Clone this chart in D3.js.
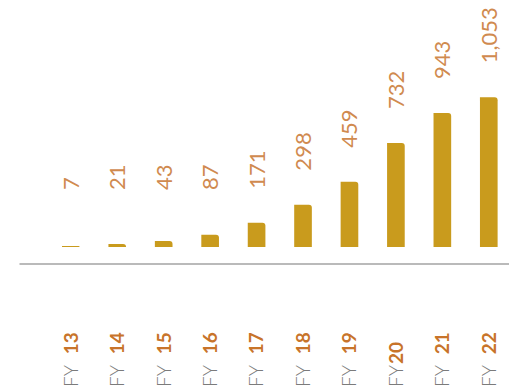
<!DOCTYPE html>
<html>
<head>
<meta charset="utf-8">
<script src="https://cdn.jsdelivr.net/npm/d3@7"></script>
<style>
  html, body { margin: 0; padding: 0; background: #fff; }
  svg { display: block; }
</style>
</head>
<body>
<svg id="chart" width="509" height="392"></svg>
<script>
// Fiscal years and their values
const categories = ["FY 13", "FY 14", "FY 15", "FY 16", "FY 17", "FY 18", "FY 19", "FY20", "FY 21", "FY 22"];
const values = [7, 21, 43, 87, 171, 298, 459, 732, 943, 1053];

const W = 509, H = 392;
const baseY = 247;      // bottom of the bars
const axisY = 264;      // grey rule under the bars

const svg = d3.select("#chart");

const x = d3.scaleBand()
  .domain(categories)
  .range([39, 520.6])
  .paddingInner(0.62)
  .paddingOuter(0.495);

const y = d3.scaleLinear()
  .domain([0, 1053])
  .range([baseY, 97.3]);

const fmt = d3.format(",");

// bar with only the top-right corner rounded
function barPath(x0, w, yTop, yBot, r) {
  const h = yBot - yTop;
  const rr = Math.min(r, h, w / 2);
  return `M${x0},${yBot}V${yTop}H${x0 + w - rr}` +
         `Q${x0 + w},${yTop} ${x0 + w},${yTop + rr}V${yBot}Z`;
}

svg.append("g")
  .selectAll("path")
  .data(values)
  .join("path")
  .attr("d", (d, i) => barPath(x(categories[i]), x.bandwidth(), y(d), y(0), 3))
  .attr("fill", "#C99B1D");

// value labels, rotated, sitting above each bar
svg.append("g")
  .selectAll("text")
  .data(values)
  .join("text")
  .attr("transform", (d, i) => {
    const cx = x(categories[i]) + x.bandwidth() / 2;
    const ly = Math.min(y(d) - 34, 190);
    return `translate(${cx},${ly}) rotate(-90)`;
  })
  .attr("dy", "0.36em")
  .attr("text-anchor", "start")
  .attr("font-family", "Lato, 'Open Sans', sans-serif")
  .attr("font-weight", 400)
  .attr("font-size", 22)
  .attr("fill", "#D08A4F")
  .text(d => fmt(d));

// baseline
svg.append("line")
  .attr("x1", 19.5).attr("x2", W)
  .attr("y1", axisY).attr("y2", axisY)
  .attr("stroke", "#A3A3A3")
  .attr("stroke-width", 1.5);

// category labels: grey "FY" followed by a bold orange year
const cat = svg.append("g")
  .selectAll("text")
  .data(categories)
  .join("text")
  .attr("transform", d => `translate(${x(d) + x.bandwidth() / 2},387) rotate(-90)`)
  .attr("dy", "0.36em")
  .attr("text-anchor", "start")
  .attr("font-family", "Lato, 'Open Sans', sans-serif")
  .attr("font-size", 19);

cat.each(function(d) {
  const m = d.match(/^(FY)(\s*)(\d+)$/);
  const t = d3.select(this);
  t.append("tspan")
    .attr("fill", "#7B7B7B")
    .attr("font-weight", 300)
    .text(m[1]);
  t.append("tspan")
    .attr("fill", "#C8742A")
    .attr("font-weight", 700)
    .attr("dx", m[2] ? 6 : 1)
    .text(m[2] + m[3]);
});
</script>
</body>
</html>
